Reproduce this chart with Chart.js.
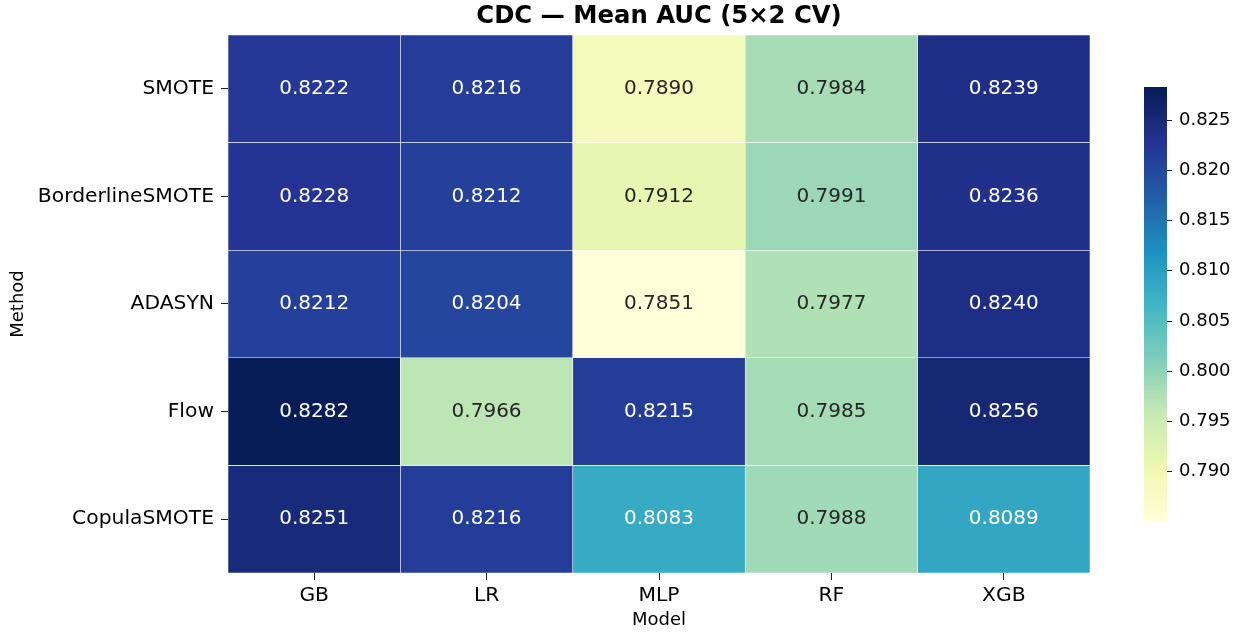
<!DOCTYPE html>
<html>
<head>
<meta charset="utf-8">
<style>
  html, body { margin: 0; padding: 0; background: #fff; }
  canvas { display: block; }
</style>
<script src="https://cdn.jsdelivr.net/npm/chart.js@4.4.1/dist/chart.umd.min.js"></script>
</head>
<body>
<canvas id="heat" width="1243" height="632"></canvas>
<script>
// Models (columns) and oversampling methods (rows)
const models = ['GB', 'LR', 'MLP', 'RF', 'XGB'];
const methods = ['SMOTE', 'BorderlineSMOTE', 'ADASYN', 'Flow', 'CopulaSMOTE'];

// Mean AUC per method, one value per model
const smote           = [0.8222, 0.8216, 0.7890, 0.7984, 0.8239];
const borderlineSmote = [0.8228, 0.8212, 0.7912, 0.7991, 0.8236];
const adasyn          = [0.8212, 0.8204, 0.7851, 0.7977, 0.8240];
const flow            = [0.8282, 0.7966, 0.8215, 0.7985, 0.8256];
const copulaSmote     = [0.8251, 0.8216, 0.8083, 0.7988, 0.8089];

// Colour bar tick values
const colorbarTicks = [0.790, 0.795, 0.800, 0.805, 0.810, 0.815, 0.820, 0.825];

const aucRows = [smote, borderlineSmote, adasyn, flow, copulaSmote];
const allValues = aucRows.flat();
const vmin = Math.min(...allValues);
const vmax = Math.max(...allValues);

// YlGnBu colour map (ColorBrewer 9-class anchors)
const YLGNBU = [
  [255, 255, 217], [237, 248, 177], [199, 233, 180], [127, 205, 187],
  [65, 182, 196], [29, 145, 192], [34, 94, 168], [37, 52, 148], [8, 29, 88]
];
function cmapRGB(t) {
  t = Math.max(0, Math.min(1, t));
  // quantise to 256 levels
  const idx = Math.min(255, Math.floor(t * 256));
  const u = idx / 255 * (YLGNBU.length - 1);
  const i = Math.min(YLGNBU.length - 2, Math.floor(u));
  const f = u - i;
  const a = YLGNBU[i], b = YLGNBU[i + 1];
  return [0, 1, 2].map(k => a[k] + (b[k] - a[k]) * f);
}
function rgbStr(c) {
  return 'rgb(' + c.map(v => Math.round(v)).join(',') + ')';
}
function colorFor(v) {
  return rgbStr(cmapRGB((v - vmin) / (vmax - vmin)));
}
function textColorFor(v) {
  const c = cmapRGB((v - vmin) / (vmax - vmin)).map(x => x / 255);
  const lin = c.map(x => x <= 0.03928 ? x / 12.92 : Math.pow((x + 0.055) / 1.055, 2.4));
  const lum = 0.2126 * lin[0] + 0.7152 * lin[1] + 0.0722 * lin[2];
  return lum > 0.408 ? '#262626' : '#ffffff';
}

const FONT = "'DejaVu Sans', sans-serif";

// Each row of the heatmap is a dataset of floating bars spanning one row band
const datasets = methods.map((m, i) => ({
  label: m,
  data: aucRows[i].map((v, j) => ({ x: models[j], y: [i - 0.5, i + 0.5], v: v })),
  backgroundColor: ctx => colorFor(ctx.raw.v),
  borderColor: '#ffffff',
  borderWidth: 0.6,
  borderSkipped: false,
  grouped: false,
  barPercentage: 1,
  categoryPercentage: 1
}));

// Cell value labels
const cellLabels = {
  id: 'cellLabels',
  afterDatasetsDraw(chart) {
    const ctx = chart.ctx;
    ctx.save();
    ctx.font = '20px ' + FONT;
    ctx.textAlign = 'center';
    ctx.textBaseline = 'middle';
    chart.data.datasets.forEach((ds, di) => {
      const meta = chart.getDatasetMeta(di);
      meta.data.forEach((el, j) => {
        const v = ds.data[j].v;
        ctx.fillStyle = textColorFor(v);
        ctx.fillText(v.toFixed(4), el.x, (el.y + el.base) / 2);
      });
    });
    ctx.restore();
  }
};

// Vertical colour bar to the right of the heatmap
const colorBar = {
  id: 'colorBar',
  afterDraw(chart) {
    const ctx = chart.ctx;
    const area = chart.chartArea;
    const h = (area.bottom - area.top) * 0.805;
    const cy = (area.top + area.bottom) / 2;
    const top = cy - h / 2, bottom = cy + h / 2;
    const left = area.right + 54, width = 23;
    const yFor = v => bottom - (v - vmin) / (vmax - vmin) * h;
    ctx.save();
    const n = 256;
    for (let k = 0; k < n; k++) {
      const y1 = bottom - (k + 1) / n * h;
      const y0 = bottom - k / n * h;
      ctx.fillStyle = rgbStr(cmapRGB((k + 0.5) / n));
      ctx.fillRect(left, Math.floor(y1), width, Math.ceil(y0) - Math.floor(y1) + 0.5);
    }
    ctx.strokeStyle = '#222';
    ctx.lineWidth = 1;
    ctx.fillStyle = '#000';
    ctx.font = '18px ' + FONT;
    ctx.textAlign = 'left';
    ctx.textBaseline = 'middle';
    colorbarTicks.forEach(t => {
      const y = Math.round(yFor(t)) + 0.5;
      ctx.beginPath();
      ctx.moveTo(left + width, y);
      ctx.lineTo(left + width + 5, y);
      ctx.stroke();
      ctx.fillText(t.toFixed(3), left + width + 12, y);
    });
    ctx.restore();
  }
};

new Chart(document.getElementById('heat'), {
  type: 'bar',
  data: { labels: models, datasets: datasets },
  plugins: [cellLabels, colorBar],
  options: {
    responsive: false,
    animation: false,
    events: [],
    layout: { padding: { left: 0, right: 153, top: 0, bottom: 0 } },
    plugins: {
      legend: { display: false },
      tooltip: { enabled: false },
      title: {
        display: true,
        fullSize: false,
        text: 'CDC — Mean AUC (5×2 CV)',
        color: '#000',
        font: { family: FONT, size: 24.3, weight: 'bold' },
        padding: { top: 2, bottom: 3.8 }
      }
    },
    scales: {
      x: {
        type: 'category',
        offset: true,
        border: { display: false },
        grid: { display: true, drawOnChartArea: false, drawTicks: true, tickLength: 7, color: '#222', offset: false },
        ticks: { color: '#000', font: { family: FONT, size: 20.3 }, padding: 4 },
        title: { display: true, text: 'Model', color: '#000', font: { family: FONT, size: 18 }, padding: { top: 0, bottom: 1 } },
        afterFit(scale) { scale.height = 59; }
      },
      y: {
        type: 'linear',
        reverse: true,
        min: -0.5,
        max: 4.5,
        border: { display: false },
        grid: { display: true, drawOnChartArea: false, drawTicks: true, tickLength: 7, color: '#222' },
        afterBuildTicks(scale) { scale.ticks = methods.map((_, i) => ({ value: i })); },
        ticks: {
          color: '#000',
          font: { family: FONT, size: 20.3 },
          padding: 7,
          autoSkip: false,
          callback: v => methods[v]
        },
        title: { display: true, text: 'Method', color: '#000', font: { family: FONT, size: 18 }, padding: { top: 8, bottom: 0 } },
        afterFit(scale) { scale.width = 228; }
      }
    }
  }
});
</script>
</body>
</html>
